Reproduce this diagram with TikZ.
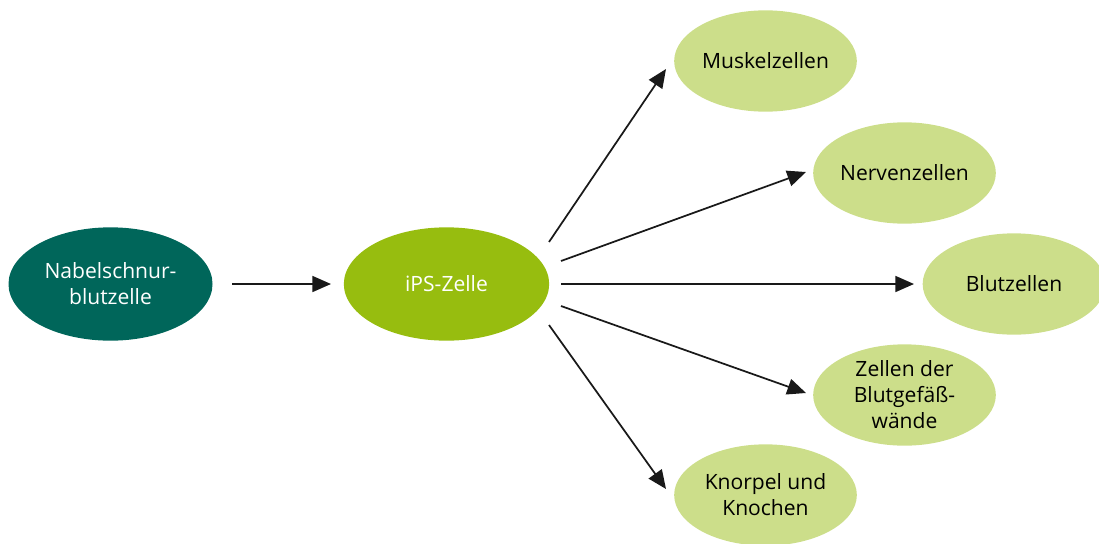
\documentclass[tikz,border=0pt]{standalone}
\usepackage{fontspec}
\setmainfont{Open Sans}
\usetikzlibrary{shapes.geometric,arrows.meta}
\definecolor{teal}{HTML}{00665A}
\definecolor{ipsgreen}{HTML}{97BD0F}
\definecolor{lightgreen}{HTML}{CCDE8A}
\tikzset{
  cell/.style={ellipse, inner sep=0pt, align=center, font=\fontsize{15.8}{19.5}\selectfont},
  srccell/.style={cell, fill=teal, text=white, minimum width=153pt, minimum height=85pt},
  ipscell/.style={cell, fill=ipsgreen, text=white, minimum width=154pt, minimum height=85pt},
  targetcell/.style={cell, fill=lightgreen, text=black, minimum width=137pt, minimum height=76pt},
  arr/.style={line width=1.3pt, -{Triangle[length=14pt,width=12pt]}, color=black!90}
}
\begin{document}
\begin{tikzpicture}[x=0.75pt,y=-0.75pt]
\useasboundingbox (0,0) rectangle (1099,543);
\node[srccell] (nabel) at (110.5,284) {Nabelschnur-\\blutzelle};
\node[ipscell] (ips) at (446.5,284) {iPS-Zelle};
\node[targetcell] (muskel) at (765.5,61) {Muskelzellen};
\node[targetcell] (nerven) at (904.5,173) {Nervenzellen};
\node[targetcell] (blut) at (1014,284) {Blutzellen};
\node[targetcell] (gefaess) at (904.5,395) {Zellen der\\Blutgefäß-\\wände};
\node[targetcell] (knorpel) at (765.5,495) {Knorpel und\\Knochen};
\coordinate (a0s) at (232,284); \coordinate (a0e) at (331,284);
\coordinate (a1s) at (549,242); \coordinate (a1e) at (666,69);
\coordinate (a2s) at (561,261); \coordinate (a2e) at (806,172);
\coordinate (a3s) at (561,284); \coordinate (a3e) at (914,284);
\coordinate (a4s) at (561,306); \coordinate (a4e) at (806,393);
\coordinate (a5s) at (549,325); \coordinate (a5e) at (666,489);
\draw[arr] (a0s) -- (a0e);
\draw[arr] (a1s) -- (a1e);
\draw[arr] (a2s) -- (a2e);
\draw[arr] (a3s) -- (a3e);
\draw[arr] (a4s) -- (a4e);
\draw[arr] (a5s) -- (a5e);
\end{tikzpicture}
\end{document}
